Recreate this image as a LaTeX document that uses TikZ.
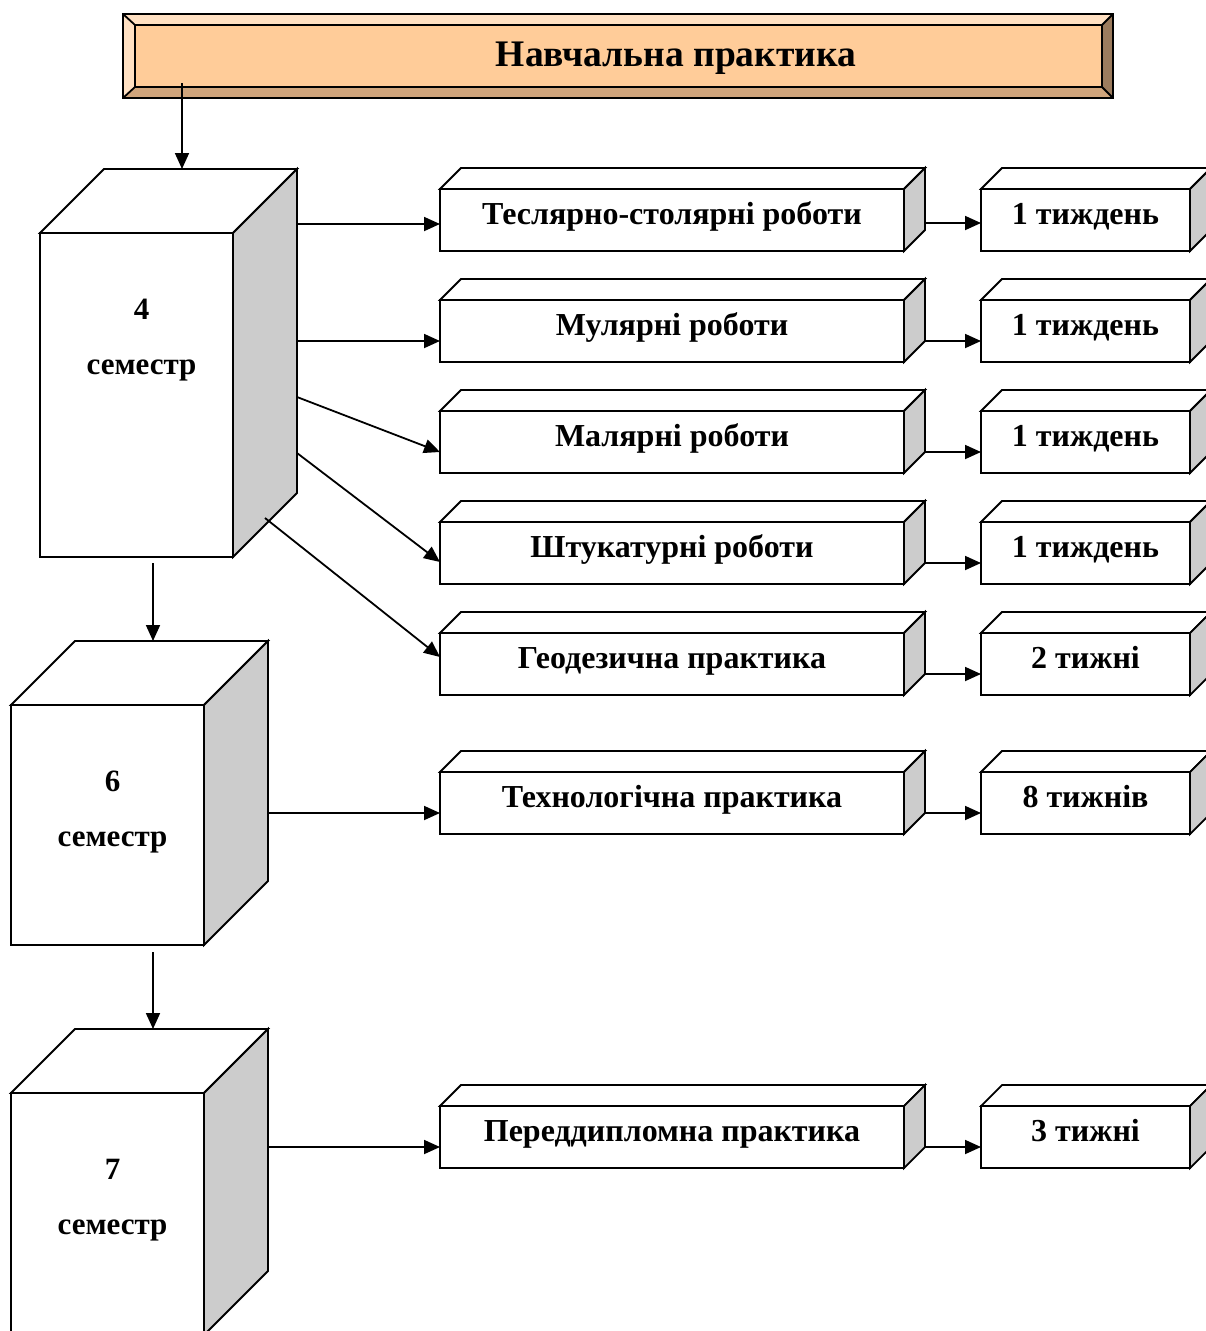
\documentclass[tikz,border=0pt]{standalone}
\usepackage{fontspec}
\setmainfont{Liberation Serif}
\usetikzlibrary{arrows.meta}
\definecolor{peach}{HTML}{FFCC99}
\definecolor{peachlight}{HTML}{FFE0C2}
\definecolor{peachdark}{HTML}{D0A57C}
\definecolor{peachshade}{HTML}{9C7C5E}

\begin{document}
\begin{tikzpicture}[x=1pt, y=-1pt, line width=1.8pt,
  front/.style={draw, fill=white, anchor=north west, inner sep=0pt, outer sep=0pt},
  sem/.style={front, minimum width=193pt},
  job/.style={front, minimum width=464pt, minimum height=62pt,
    font=\bfseries\fontsize{32}{38}\selectfont, text height=22pt, text depth=14pt},
  term/.style={job, minimum width=209pt},
  semtxt/.style={anchor=north, inner sep=0pt, align=center,
    font=\bfseries\fontsize{31}{55}\selectfont},
  arr/.style={-{Triangle[length=16pt,width=14pt]}}]

  \useasboundingbox (0,0) rectangle (1206,1331);

  \fill[peachlight] (123,14) -- (1113,14) -- (1102,25) -- (135,25) -- cycle;
  \fill[peachlight] (123,14) -- (135,25) -- (135,87) -- (123,98) -- cycle;
  \fill[peachdark] (123,98) -- (135,87) -- (1102,87) -- (1113,98) -- cycle;
  \fill[peachshade] (1113,14) -- (1113,98) -- (1102,87) -- (1102,25) -- cycle;
  \draw (123,14) rectangle (1113,98);
  \draw (123,14) -- (135,25) (1113,14) -- (1102,25) (123,98) -- (135,87) (1113,98) -- (1102,87);
  \node[front, fill=peach, minimum width=967pt, minimum height=62pt] (title) at (135,25) {};
  \node[font=\bfseries\fontsize{37.5}{44}\selectfont] (ttl) at (676,58) {Навчальна практика};

  \node[sem, minimum height=324pt] (s4) at (40,233) {};
  \node[sem, minimum height=240pt] (s6) at (11,705) {};
  \node[sem, minimum height=242pt] (s7) at (11,1093) {};
  \node[semtxt] (n4) at ([xshift=5pt, yshift=-65pt]s4.north) {4\\семестр};
  \node[semtxt] (n6) at ([xshift=5pt, yshift=-65pt]s6.north) {6\\семестр};
  \node[semtxt] (n7) at ([xshift=5pt, yshift=-65pt]s7.north) {7\\семестр};

  \foreach \i/\t/\job/\dur in {1/189/{Теслярно-столярні роботи}/{1 тиждень},
      2/300/{Мулярні роботи}/{1 тиждень}, 3/411/{Малярні роботи}/{1 тиждень},
      4/522/{Штукатурні роботи}/{1 тиждень}, 5/633/{Геодезична практика}/{2 тижні},
      6/772/{Технологічна практика}/{8 тижнів}, 7/1106/{Переддипломна практика}/{3 тижні}} {
    \node[job] (m\i) at (440,\t) {\job};
    \node[term] (w\i) at (981,\t) {\dur};
  }

  \foreach \n/\d in {s4/64, s6/64, s7/64, m1/21, m2/21, m3/21, m4/21, m5/21, m6/21, m7/21,
      w1/21, w2/21, w3/21, w4/21, w5/21, w6/21, w7/21} {
    \filldraw[fill=white] (\n.north west) -- ++(\d,-\d) coordinate (\n-bk)
      -- ([shift={(\d,-\d)}]\n.north east) -- (\n.north east) -- cycle;
    \filldraw[fill=gray!40] (\n.north east) -- ++(\d,-\d)
      -- ([shift={(\d,-\d)}]\n.south east) coordinate (\n-se) -- (\n.south east) -- cycle;
  }

  \draw[arr] ([yshift=7pt]m1-se) -- ([yshift=7pt]m1-se -| w1.west);
  \foreach \i in {2,...,7}
    \draw[arr] (m\i-se) -- (m\i-se -| w\i.west);

  \coordinate (t0) at ([shift={(47,-4)}]title.south west);
  \coordinate (c4) at ([shift={(113,6)}]s4.south west);
  \coordinate (c6) at ([shift={(142,7)}]s6.south west);
  \draw[arr] (t0) -- (t0 |- s4-bk);
  \draw[arr] (c4) -- (c4 |- s6-bk);
  \draw[arr] (c6) -- (c6 |- s7-bk);

  \coordinate (o1) at ([shift={(64,-9)}]s4.north east);
  \coordinate (o2) at ([shift={(64,108)}]s4.north east);
  \coordinate (o3) at ([shift={(64,164)}]s4.north east);
  \coordinate (o4) at ([shift={(64,220)}]s4.north east);
  \coordinate (o5) at ([shift={(32,-39)}]s4.south east);
  \coordinate (o6) at ([shift={(64,108)}]s6.north east);
  \coordinate (o7) at ([shift={(64,54)}]s7.north east);
  \draw[arr] (o1) -- (o1 -| m1.west);
  \draw[arr] (o2) -- (o2 -| m2.west);
  \draw[arr] (o3) -- ([yshift=-10pt]m3.west);
  \draw[arr] (o4) -- ([yshift=-9pt]m4.west);
  \draw[arr] (o5) -- ([yshift=7pt]m5.west);
  \draw[arr] (o6) -- (o6 -| m6.west);
  \draw[arr] (o7) -- (o7 -| m7.west);
\end{tikzpicture}
\end{document}
